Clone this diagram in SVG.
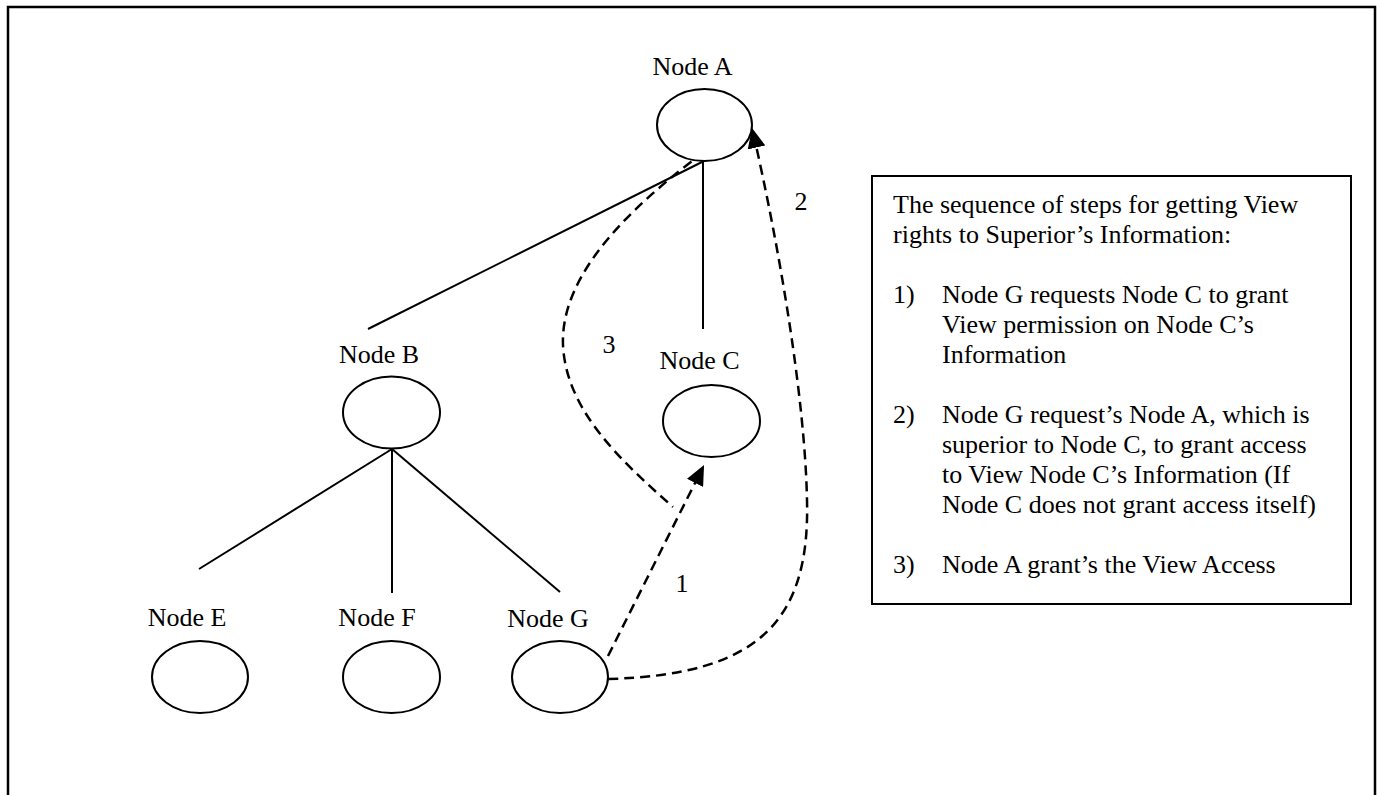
<svg xmlns="http://www.w3.org/2000/svg" width="1380" height="795" viewBox="0 0 1380 795">
  <style>
    text { font-family: "Liberation Serif", "Times New Roman", serif; font-size: 26px; fill: #000; }
    .lbl { text-anchor: middle; }
    .node { fill: #fff; stroke: #000; stroke-width: 2; }
    .edge { fill: none; stroke: #000; stroke-width: 2; }
    .dash { fill: none; stroke: #000; stroke-width: 2.5; stroke-dasharray: 10 6; }
    .frame { fill: none; stroke: #000; stroke-width: 2.5; }
    .note { fill: #fff; stroke: #000; stroke-width: 2; }
  </style>
  <defs>
    <marker id="arrow" viewBox="0 0 20 18" refX="17" refY="9" markerWidth="20" markerHeight="18" markerUnits="userSpaceOnUse" orient="auto">
      <path d="M0,0 L20,9 L0,18 z" fill="#000"/>
    </marker>
  </defs>

  <rect width="1380" height="795" fill="#fff"/>
  <!-- page frame -->
  <rect class="frame" x="8" y="7" width="1367" height="810"/>

  <!-- tree edges and request/grant paths -->
  <g id="connectors">
    <line class="edge" x1="702" y1="162" x2="368" y2="329"/>
    <line class="edge" x1="703" y1="161" x2="703" y2="329"/>
    <line class="edge" x1="392" y1="449" x2="199" y2="569"/>
    <line class="edge" x1="392" y1="449" x2="392" y2="593"/>
    <line class="edge" x1="392" y1="449" x2="560" y2="592"/>
    <!-- step 1: G to C -->
    <path class="dash" d="M608,656 L702.7,467.7" marker-end="url(#arrow)"/>
    <!-- step 2: G to A -->
    <path class="dash" d="M608,679 C760,675 810,620 807,500 C805,400 780,250 752.7,130.9" marker-end="url(#arrow)"/>
    <!-- step 3: A grants -->
    <path class="dash" d="M704,152 C640,200 560,270 563,345 C566,410 620,460 673,507"/>
    <text class="lbl" x="682" y="592">1</text>
    <text class="lbl" x="801" y="210">2</text>
    <text class="lbl" x="609" y="353">3</text>
  </g>

  <g id="node-a">
    <ellipse class="node" cx="704.5" cy="125" rx="47.5" ry="36"/>
    <text class="lbl" x="692.5" y="75">Node A</text>
  </g>
  <g id="node-b">
    <ellipse class="node" cx="391.5" cy="412.5" rx="48.5" ry="36"/>
    <text class="lbl" x="379" y="363">Node B</text>
  </g>
  <g id="node-c">
    <ellipse class="node" cx="711.5" cy="421" rx="48.5" ry="36"/>
    <text class="lbl" x="699.5" y="369">Node C</text>
  </g>
  <g id="node-e">
    <ellipse class="node" cx="200" cy="677" rx="48" ry="36"/>
    <text class="lbl" x="187" y="626">Node E</text>
  </g>
  <g id="node-f">
    <ellipse class="node" cx="391.5" cy="677" rx="48.5" ry="36"/>
    <text class="lbl" x="377" y="626">Node F</text>
  </g>
  <g id="node-g">
    <ellipse class="node" cx="560" cy="677" rx="48" ry="36"/>
    <text class="lbl" x="548" y="627">Node G</text>
  </g>

  <g id="steps-note">
    <rect class="note" x="872" y="176" width="479" height="428"/>
    <text x="893" y="213">The sequence of steps for getting View</text>
    <text x="893" y="243">rights to Superior’s Information:</text>
    <text x="893" y="303">1)</text>
    <text x="942" y="303">Node G requests Node C to grant</text>
    <text x="942" y="333">View permission on Node C’s</text>
    <text x="942" y="363">Information</text>
    <text x="893" y="423">2)</text>
    <text x="942" y="423">Node G request’s Node A, which is</text>
    <text x="942" y="453">superior to Node C, to grant access</text>
    <text x="942" y="483">to View Node C’s Information (If</text>
    <text x="942" y="513">Node C does not grant access itself)</text>
    <text x="893" y="573">3)</text>
    <text x="942" y="573">Node A grant’s the View Access</text>
  </g>
</svg>
